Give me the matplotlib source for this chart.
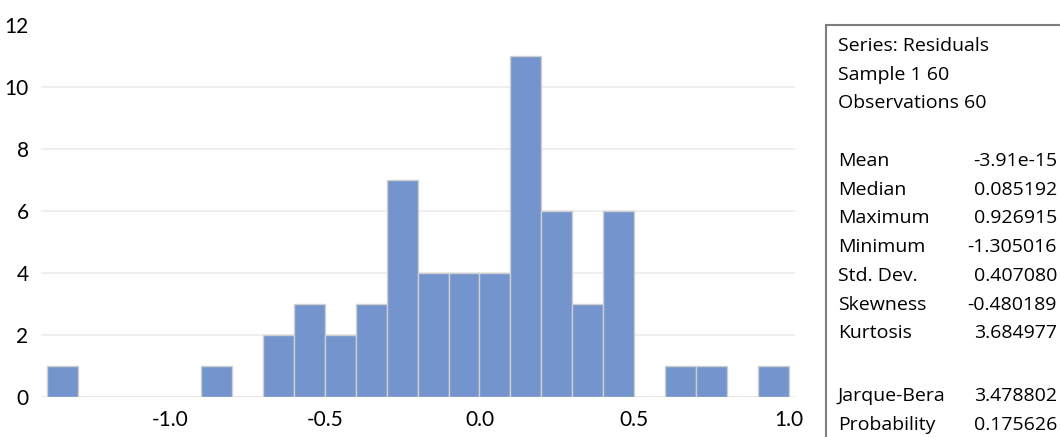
import matplotlib.pyplot as plt
import numpy as np

plt.rcParams['font.family'] = ['Lato', 'DejaVu Sans']

# histogram of residuals, bin width 0.1
bin_left = np.round(np.arange(-1.4, 1.0, 0.1), 2)
counts = [1, 0, 0, 0, 0, 1, 0, 2, 3, 2, 3, 7, 4, 4, 4, 11, 6, 3, 6, 0, 1, 1, 0, 1]
bin_width = 0.1

x_ticks = [-1.0, -0.5, 0.0, 0.5, 1.0]
y_ticks = [0, 2, 4, 6, 8, 10, 12]

stat_names = ['Mean', 'Median', 'Maximum', 'Minimum', 'Std. Dev.', 'Skewness', 'Kurtosis']
stat_values = ['-3.91e-15', '0.085192', '0.926915', '-1.305016', '0.407080', '-0.480189', '3.684977']
header = ['Series: Residuals', 'Sample 1 60', 'Observations 60']
test_names = ['Jarque-Bera', 'Probability']
test_values = ['3.478802', '0.175626']

fig = plt.figure(figsize=(10.6, 4.37), dpi=100)
ax = fig.add_axes([41/1060, 40/437, 754/1060, 372/437])

ax.bar(bin_left, counts, width=bin_width, align='edge', color='#7394cc',
       edgecolor='#cfcfcf', linewidth=1, zorder=2)
ax.set_xlim(-1.419, 1.021)
ax.set_ylim(0, 12)
ax.set_xticks(x_ticks)
ax.set_xticklabels(['%.1f' % v for v in x_ticks])
ax.set_yticks(y_ticks)
ax.tick_params(length=0, labelsize=15, pad=9, colors='black')
ax.grid(axis='y', color='#ebebeb', linewidth=1.2, zorder=0)
for g in ax.get_ygridlines()[-1:]:
    g.set_visible(False)
for s in ax.spines.values():
    s.set_visible(False)

# stats box
box = plt.Rectangle((826/1060, -0.1), 0.3, (437 - 25) / 437 + 0.1,
                    transform=fig.transFigure, fill=False,
                    edgecolor='#7f7f7f', linewidth=1.5)
fig.add_artist(box)

def py(y):
    return 1 - y / 437

xl = 838/1060
xr = 1057/1060
fs = 14
box_font = ['Open Sans', 'DejaVu Sans']
for i, t in enumerate(header):
    fig.text(xl, py(46 + 28.7*i), t, fontsize=fs, va='center', ha='left', family=box_font)
for i, (n, v) in enumerate(zip(stat_names, stat_values)):
    y = py(161 + 28.7*i)
    fig.text(xl, y, n, fontsize=fs, va='center', ha='left', family=box_font)
    fig.text(xr, y, v, fontsize=fs, va='center', ha='right', family=box_font)
for i, (n, v) in enumerate(zip(test_names, test_values)):
    y = py(396 + 28.7*i)
    fig.text(xl, y, n, fontsize=fs, va='center', ha='left', family=box_font)
    fig.text(xr, y, v, fontsize=fs, va='center', ha='right', family=box_font)

fig.savefig('out.png', dpi=100)
